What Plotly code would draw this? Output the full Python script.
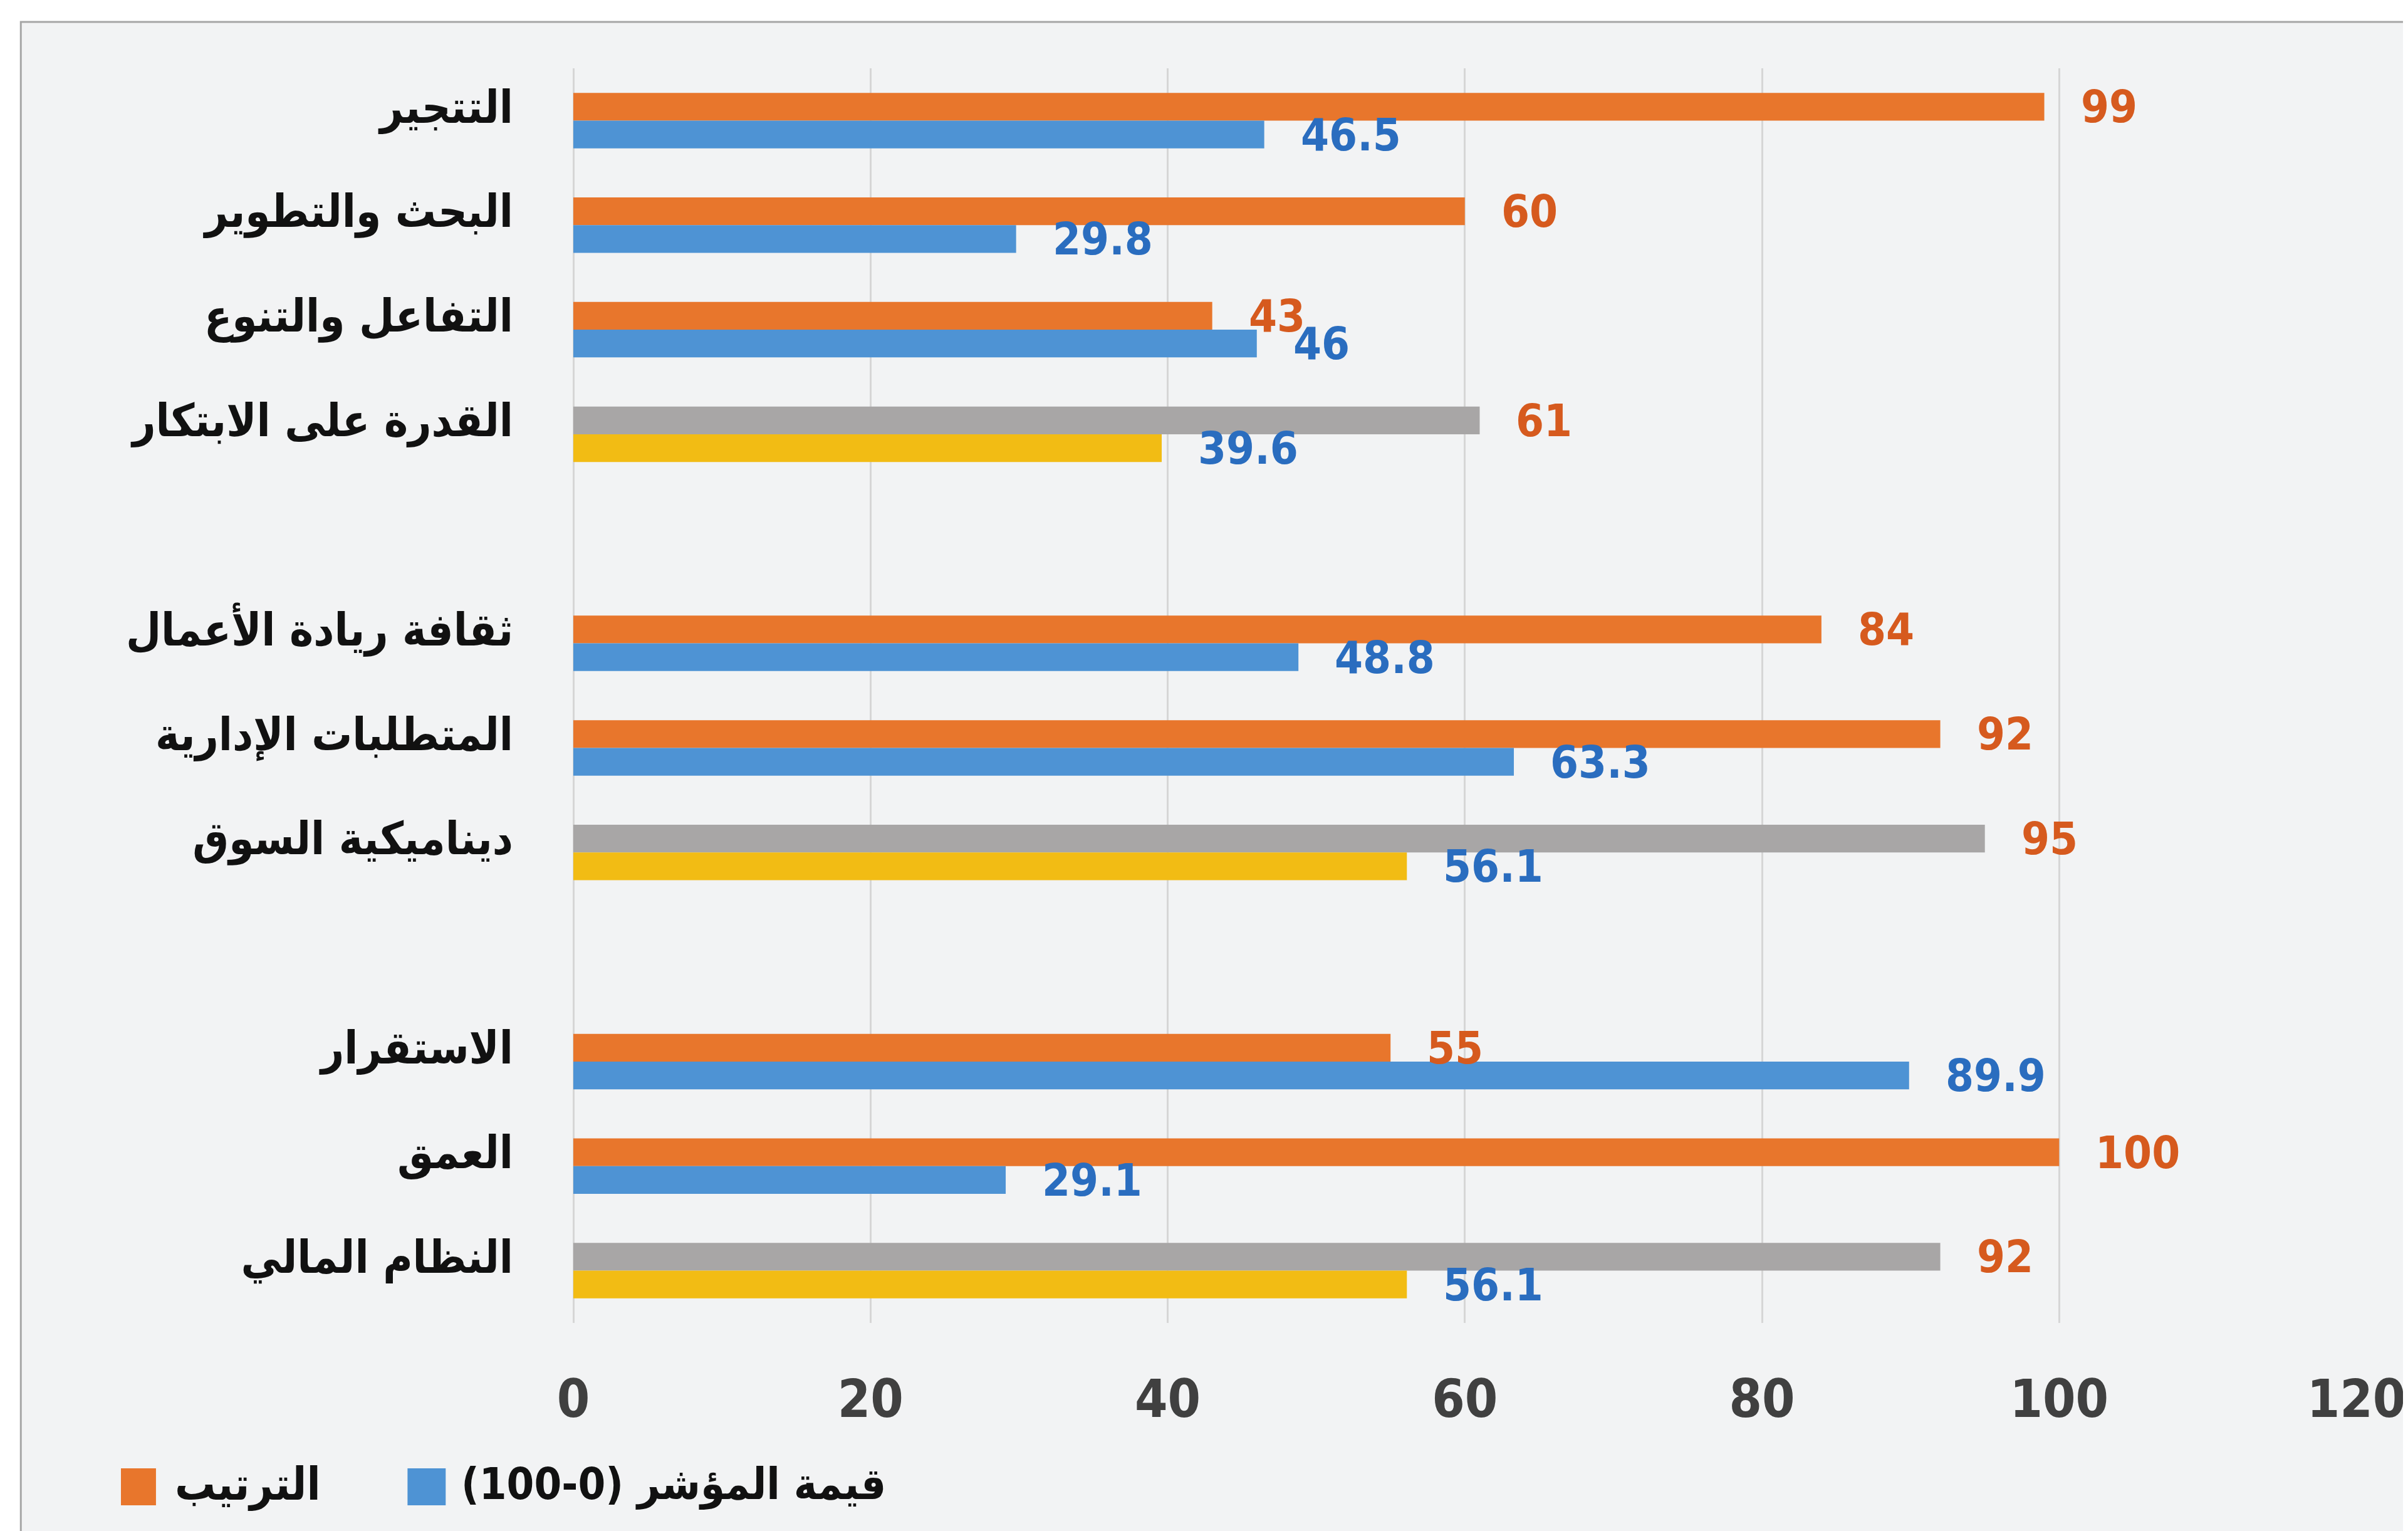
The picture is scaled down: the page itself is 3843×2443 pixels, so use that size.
import plotly.graph_objects as go

# ---- data ----
categories = ["التتجير", "البحث والتطوير", "التفاعل والتنوع", "القدرة على الابتكار", " ",
              "ثقافة ريادة الأعمال", "المتطلبات الإدارية", "ديناميكية السوق", "  ",
              "الاستقرار", "العمق", "النظام المالي"]
rank_values = [99, 60, 43, 61, None, 84, 92, 95, None, 55, 100, 92]
index_values = [46.5, 29.8, 46, 39.6, None, 48.8, 63.3, 56.1, None, 89.9, 29.1, 56.1]
is_pillar = [False, False, False, True, False, False, False, True, False, False, False, True]
x_ticks = [0, 20, 40, 60, 80, 100, 120]
legend_labels = ["الترتيب", "قيمة المؤشر (0-100)"]

# ---- styles ----
ORANGE = "#E8762C"
BLUE = "#4E93D4"
GRAY = "#A8A6A6"
YELLOW = "#F2BC14"
ORANGE_TXT = "#D65A1E"
BLUE_TXT = "#2A6DBF"
BG = "#F2F3F4"
NUM_FONT = "DejaVu Sans Condensed, DejaVu Sans, sans-serif"
AR_FONT = "DejaVu Sans Condensed, DejaVu Sans, sans-serif"

W, H = 3843, 2443
ML, MR, MT, MB = 907, 86, 101, 340

rank_colors = [GRAY if p else ORANGE for p in is_pillar]
index_colors = [YELLOW if p else BLUE for p in is_pillar]

fig = go.Figure()
fig.add_trace(go.Bar(y=categories, x=rank_values, orientation="h", name=legend_labels[0],
                     marker=dict(color=rank_colors, line=dict(width=0)), showlegend=False))
fig.add_trace(go.Bar(y=categories, x=index_values, orientation="h", name=legend_labels[1],
                     marker=dict(color=index_colors, line=dict(width=0)), showlegend=False))

annotations = []
half = (1 - 0.47) / 4  # offset of each bar centre from the category centre
for i, (c, r, v) in enumerate(zip(categories, rank_values, index_values)):
    if r is not None:
        annotations.append(dict(x=r, y=i - half, xref="x", yref="y", text=str(r),
                                showarrow=False, xanchor="left", yanchor="middle", xshift=56,
                                font=dict(family=NUM_FONT, size=72, color=ORANGE_TXT, weight="bold")))
    if v is not None:
        annotations.append(dict(x=v, y=i + half, xref="x", yref="y", text=str(v),
                                showarrow=False, xanchor="left", yanchor="middle", xshift=56,
                                font=dict(family=NUM_FONT, size=72, color=BLUE_TXT, weight="bold")))

# manual legend (large swatches)
pw = W - ML - MR
ph = H - MT - MB
def px_x(p):
    return (p - ML) / pw
def px_y(p):
    return (H - MB - p) / ph

shapes = [
    # frame
    dict(type="rect", xref="paper", yref="paper", x0=px_x(24), x1=px_x(3900), y0=px_y(2500), y1=px_y(27),
         line=dict(color="#A6A6A6", width=3), fillcolor=BG, layer="below"),
    dict(type="rect", xref="paper", yref="paper", x0=px_x(184), x1=px_x(240), y0=px_y(2394), y1=px_y(2335),
         line=dict(width=0), fillcolor=ORANGE),
    dict(type="rect", xref="paper", yref="paper", x0=px_x(642), x1=px_x(703), y0=px_y(2394), y1=px_y(2335),
         line=dict(width=0), fillcolor=BLUE),
]
annotations.append(dict(x=px_x(268), y=px_y(2360), xref="paper", yref="paper", text=legend_labels[0],
                        showarrow=False, xanchor="left", yanchor="middle",
                        font=dict(family=AR_FONT, size=72, color="#111111", weight="bold")))
annotations.append(dict(x=px_x(726), y=px_y(2360), xref="paper", yref="paper", text=legend_labels[1],
                        showarrow=False, xanchor="left", yanchor="middle",
                        font=dict(family=AR_FONT, size=70, color="#111111", weight="bold")))

fig.update_layout(
    width=W, height=H,
    margin=dict(l=ML, r=MR, t=MT, b=MB),
    paper_bgcolor="#FFFFFF",
    plot_bgcolor="rgba(0,0,0,0)",
    barmode="group", bargap=0.47, bargroupgap=0,
    shapes=shapes, annotations=annotations,
    showlegend=False,
)
fig.update_xaxes(range=[0, 120.02], tickvals=x_ticks, showgrid=True, gridcolor="#D6D6D6", gridwidth=3,
                 zeroline=True, zerolinecolor="#D6D6D6", zerolinewidth=3, showline=False,
                 ticks="", ticklabelstandoff=65, ticklabeloverflow="allow",
                 tickfont=dict(family=NUM_FONT, size=84, color="#404040", weight="bold"))
fig.update_yaxes(type="category", categoryorder="array", categoryarray=categories,
                 autorange="reversed", showgrid=False, zeroline=False, showline=False, ticks="",
                 ticklabelstandoff=95, ticklabelshift=22,
                 tickfont=dict(family=AR_FONT, size=72, color="#111111", weight="bold"))

fig.write_html("out.html")
